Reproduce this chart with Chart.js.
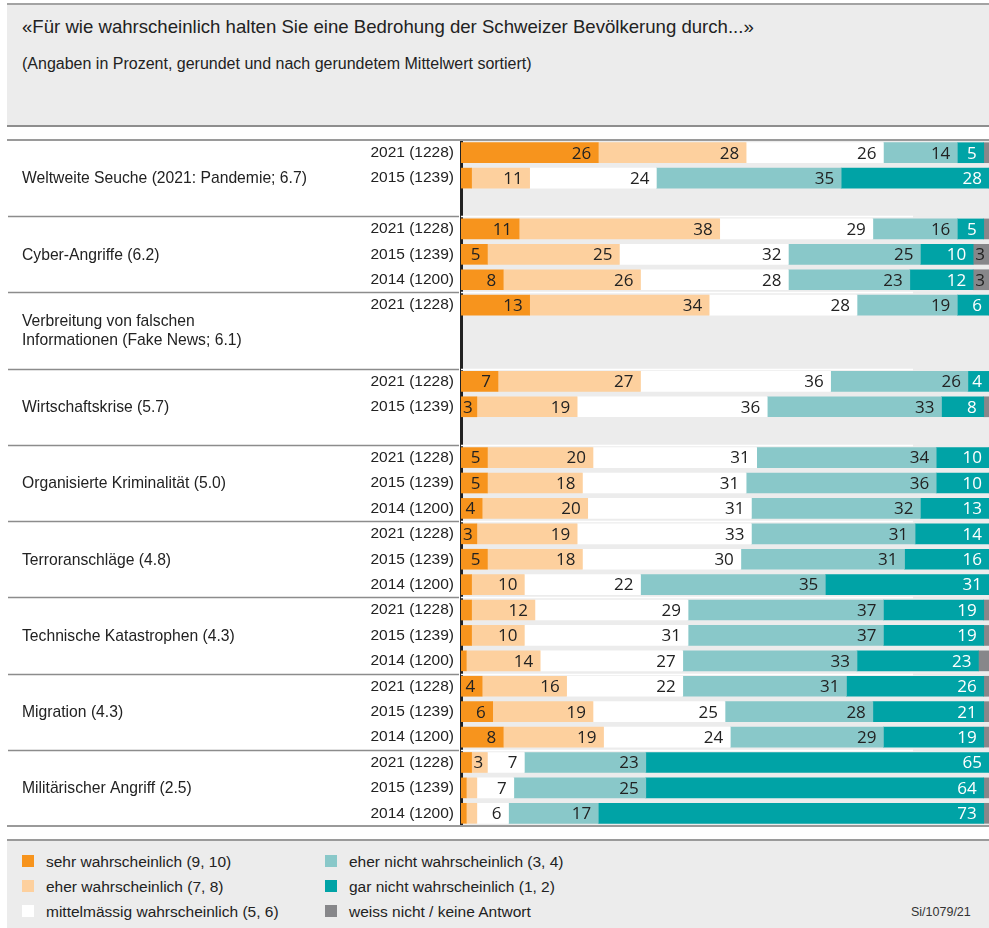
<!DOCTYPE html>
<html>
<head>
<meta charset="utf-8">
<script src="https://cdn.jsdelivr.net/npm/chart.js@4.4.0/dist/chart.umd.min.js"></script>
<style>
  body{margin:0;width:989px;height:928px;position:relative;background:#fff;overflow:hidden;
       font-family:"Liberation Sans",Arial,sans-serif;color:#222}
  .head{position:absolute;left:7px;top:3px;width:982px;height:120px;background:#ececec;
        border-top:2px solid #a3a3a3;border-bottom:2px solid #8e8e8e}
  .title{position:absolute;left:22px;top:18px;font-size:18.6px;line-height:18px;white-space:nowrap}
  .subtitle{position:absolute;left:22px;top:56px;font-size:16px;line-height:16px;white-space:nowrap}
  .hline{position:absolute;left:7px;width:982px;height:2px;background:#9a9a9a}
  #wrap{position:absolute;left:8px;top:140px;width:981px;height:686px}
  .legend{position:absolute;left:7px;top:839px;width:982px;height:89px;background:#ececec;border-top:2px solid #9a9a9a}
  .item{position:absolute;font-size:15.5px;line-height:15.5px;white-space:nowrap}
  .item i{position:absolute;left:-24px;top:1px;width:12px;height:12px}
  .code{position:absolute;left:911px;top:906px;font-size:12.5px;line-height:12.5px;color:#333}
</style>
</head>
<body>
<div class="head"></div>
<div class="title">«Für wie wahrscheinlich halten Sie eine Bedrohung der Schweizer Bevölkerung durch...»</div>
<div class="subtitle">(Angaben in Prozent, gerundet und nach gerundetem Mittelwert sortiert)</div>
<div id="wrap"><canvas id="chartCanvas"></canvas></div>
<div class="hline" style="top:139px"></div>
<div class="hline" style="top:825px"></div>
<div class="legend"></div>
<div id="legend-items"></div>
<div class="code">Si/1079/21</div>

<script>
// Zeilen (Jahr + Fallzahl), leere Zeilen sind Platzhalter
const rowLabels = [
  '2021 (1228)', '2015 (1239)', '',
  '2021 (1228)', '2015 (1239)', '2014 (1200)',
  '2021 (1228)', '', '',
  '2021 (1228)', '2015 (1239)', '',
  '2021 (1228)', '2015 (1239)', '2014 (1200)',
  '2021 (1228)', '2015 (1239)', '2014 (1200)',
  '2021 (1228)', '2015 (1239)', '2014 (1200)',
  '2021 (1228)', '2015 (1239)', '2014 (1200)',
  '2021 (1228)', '2015 (1239)', '2014 (1200)'
];

// Themen, je 3 Zeilen
const groupLabels = [
  ['Weltweite Seuche (2021: Pandemie; 6.7)'],
  ['Cyber-Angriffe (6.2)'],
  ['Verbreitung von falschen', 'Informationen (Fake News; 6.1)'],
  ['Wirtschaftskrise (5.7)'],
  ['Organisierte Kriminalität (5.0)'],
  ['Terroranschläge (4.8)'],
  ['Technische Katastrophen (4.3)'],
  ['Migration (4.3)'],
  ['Militärischer Angriff (2.5)']
];

const seriesNames = [
  'sehr wahrscheinlich (9, 10)',
  'eher wahrscheinlich (7, 8)',
  'mittelmässig wahrscheinlich (5, 6)',
  'eher nicht wahrscheinlich (3, 4)',
  'gar nicht wahrscheinlich (1, 2)',
  'weiss nicht / keine Antwort'
];

const sehr       = [26, 2, null, 11, 5, 8, 13, null, null, 7, 3, null, 5, 5, 4, 3, 5, 2, 2, 2, 1, 4, 6, 8, 2, 1, 1];
const eher       = [28, 11, null, 38, 25, 26, 34, null, null, 27, 19, null, 20, 18, 20, 19, 18, 10, 12, 10, 14, 16, 19, 19, 3, 2, 2];
const mittel     = [26, 24, null, 29, 32, 28, 28, null, null, 36, 36, null, 31, 31, 31, 33, 30, 22, 29, 31, 27, 22, 25, 24, 7, 7, 6];
const eherNicht  = [14, 35, null, 16, 25, 23, 19, null, null, 26, 33, null, 34, 36, 32, 31, 31, 35, 37, 37, 33, 31, 28, 29, 23, 25, 17];
const garNicht   = [5, 28, null, 5, 10, 12, 6, null, null, 4, 8, null, 10, 10, 13, 14, 16, 31, 19, 19, 23, 26, 21, 19, 65, 64, 73];
const weissNicht = [1, 0, null, 1, 3, 3, 0, null, null, 0, 1, null, 0, 0, 0, 0, 0, 0, 1, 1, 2, 1, 1, 1, 0, 1, 1];

const colors      = ['#f7941d', '#fdd09e', '#ffffff', '#89c8c9', '#00a3a6', '#87878a'];
const labelColors = ['#222', '#222', '#222', '#222', '#fff', '#222'];

// Legende
const legendBox = document.getElementById('legend-items');
seriesNames.forEach((name, i) => {
  const col = Math.floor(i / 3), row = i % 3;
  const d = document.createElement('div');
  d.className = 'item';
  d.style.left = (col === 0 ? 46 : 349) + 'px';
  d.style.top = (854 + row * 25) + 'px';
  d.innerHTML = `<i style="background:${colors[i]}"></i>${name}`;
  legendBox.appendChild(d);
});

// grauer Hintergrund im Balkenbereich
const areaBg = {
  id: 'areaBg',
  beforeDraw(chart) {
    const {ctx, chartArea} = chart;
    ctx.save();
    ctx.fillStyle = '#ececec';
    ctx.fillRect(chartArea.left, chartArea.top, chartArea.right - chartArea.left, chartArea.bottom - chartArea.top);
    ctx.restore();
  }
};

// Trennlinien zwischen den Themen + Themenbeschriftung
const groups = {
  id: 'groups',
  beforeDatasetsDraw(chart) {
    const {ctx, chartArea} = chart;
    const y = chart.scales.y;
    ctx.save();
    for (let k = 1; k < groupLabels.length; k++) {
      const yy = Math.round((y.getPixelForValue(3 * k - 1) + y.getPixelForValue(3 * k)) / 2) + 0.5;
      ctx.strokeStyle = '#8c8c8c';
      ctx.lineWidth = 1.5;
      ctx.beginPath(); ctx.moveTo(0, yy); ctx.lineTo(chartArea.left - 2, yy); ctx.stroke();
      ctx.strokeStyle = '#ffffff';
      ctx.lineWidth = 1.5;
      ctx.beginPath(); ctx.moveTo(chartArea.left, yy); ctx.lineTo(chartArea.left + 452, yy); ctx.stroke();
    }
    ctx.fillStyle = '#222';
    ctx.font = '15.7px "Liberation Sans", Arial, sans-serif';
    ctx.textAlign = 'left';
    ctx.textBaseline = 'middle';
    groupLabels.forEach((lines, k) => {
      const mid = y.getPixelForValue(3 * k + 1);
      lines.forEach((t, n) => {
        ctx.fillText(t, 14, mid + (n - (lines.length - 1) / 2) * 19 + 1);
      });
    });
    ctx.restore();
  }
};

// Zahlen in den Balken
const barLabels = {
  id: 'barLabels',
  afterDatasetsDraw(chart) {
    const {ctx} = chart;
    ctx.save();
    ctx.font = '17px "Open Sans", sans-serif';
    ctx.textAlign = 'right';
    ctx.textBaseline = 'middle';
    chart.data.datasets.forEach((ds, i) => {
      chart.getDatasetMeta(i).data.forEach((bar, j) => {
        const v = ds.data[j];
        if (v == null || v < 3) return;
        const txt = String(v);
        const w = ctx.measureText(txt).width;
        const start = Math.min(bar.base, bar.x), end = Math.max(bar.base, bar.x);
        const x = Math.max(end - 7, start + w + 2);
        ctx.fillStyle = labelColors[i];
        ctx.fillText(txt, x, bar.y + 1);
      });
    });
    ctx.restore();
  }
};

function draw() {
  const ctx = document.getElementById('chartCanvas').getContext('2d');
  const series = [sehr, eher, mittel, eherNicht, garNicht, weissNicht];
  new Chart(ctx, {
    type: 'bar',
    data: {
      labels: rowLabels,
      datasets: series.map((s, i) => ({
        label: seriesNames[i],
        data: s,
        backgroundColor: colors[i],
        borderWidth: 0,
        barThickness: 20,
        categoryPercentage: 1
      }))
    },
    options: {
      indexAxis: 'y',
      responsive: true,
      maintainAspectRatio: false,
      animation: false,
      layout: {padding: 0},
      plugins: {legend: {display: false}, tooltip: {enabled: false}},
      scales: {
        x: {stacked: true, min: 0, max: 100, display: false},
        y: {
          stacked: true,
          z: 1,
          afterFit(scale) {
            scale.width = 453;
            scale.paddingTop = 0;
            scale.paddingBottom = 0;
          },
          grid: {display: false, drawTicks: false},
          border: {display: true, color: '#222', width: 3},
          ticks: {
            color: '#222',
            padding: 7,
            autoSkip: false,
            font: {family: '"Liberation Sans", Arial, sans-serif', size: 15.5}
          }
        }
      }
    },
    plugins: [areaBg, groups, barLabels]
  });
}

document.fonts.load('17px "Open Sans"').then(draw, draw);
</script>
</body>
</html>
